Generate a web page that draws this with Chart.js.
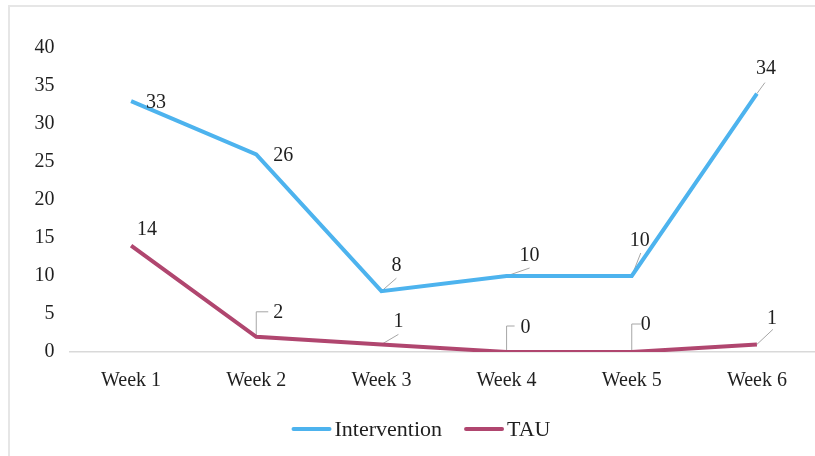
<!DOCTYPE html>
<html>
<head>
<meta charset="utf-8">
<script src="https://cdn.jsdelivr.net/npm/chart.js@4"></script>
<style>
  html, body { margin: 0; padding: 0; background: #fff; overflow: hidden; }
  #frame { position: absolute; left: 8px; top: 5px; width: 900px; height: 600px;
           border-top: 2px solid #e6e6e6; border-left: 2px solid #e6e6e6; }
  #wrap { position: absolute; left: 0; top: 0; width: 830px; height: 456px; }
</style>
</head>
<body>
<div id="frame"></div>
<div id="wrap"><canvas id="c"></canvas></div>
<script>
// Weekly counts per group
const weeks = ['Week 1', 'Week 2', 'Week 3', 'Week 4', 'Week 5', 'Week 6'];
const intervention = [33, 26, 8, 10, 10, 34];
const tau = [14, 2, 1, 0, 0, 1];
const yTicks = [0, 5, 10, 15, 20, 25, 30, 35, 40];

const FONT = '"Liberation Serif", "Times New Roman", serif';
const BLUE = '#4db3ee';
const MAROON = '#b0466f';
const INK = '#1f1f1f';

// Value label placement: label offset from the point, and leader style
// 'none' = no leader, 'diag' = straight leader to [lx, ly], 'elbow' = up then right
const labelLayout = [
  [
    { dx: 25, dy: 2, type: 'none' },
    { dx: 27, dy: 1, type: 'none' },
    { dx: 15, dy: -25, type: 'diag', lx: 15, ly: -13 },
    { dx: 23, dy: -20, type: 'diag', lx: 23, ly: -8 },
    { dx: 8, dy: -35, type: 'diag', lx: 9, ly: -23 },
    { dx: 9, dy: -25, type: 'diag', lx: 8, ly: -11 }
  ],
  [
    { dx: 16, dy: -16, type: 'none' },
    { dx: 22, dy: -24, type: 'elbow', lx: 12, ly: -25 },
    { dx: 17, dy: -23, type: 'diag', lx: 17, ly: -10 },
    { dx: 19, dy: -24, type: 'elbow', lx: 8, ly: -26 },
    { dx: 14, dy: -27, type: 'elbow', lx: 9, ly: -28 },
    { dx: 15, dy: -26, type: 'diag', lx: 16, ly: -15 }
  ]
];

const leaderPlugin = {
  id: 'leaders',
  beforeDatasetsDraw(chart) {
    const ctx = chart.ctx;
    ctx.save();
    ctx.strokeStyle = '#a6a6a6';
    ctx.lineWidth = 1;
    chart.data.datasets.forEach((ds, di) => {
      chart.getDatasetMeta(di).data.forEach((pt, i) => {
        const L = labelLayout[di][i];
        if (L.type === 'none') return;
        ctx.beginPath();
        ctx.moveTo(pt.x, pt.y);
        if (L.type === 'diag') {
          ctx.lineTo(pt.x + L.lx, pt.y + L.ly);
        } else {
          ctx.lineTo(pt.x, pt.y + L.ly);
          ctx.lineTo(pt.x + L.lx, pt.y + L.ly);
        }
        ctx.stroke();
      });
    });
    ctx.restore();
  },
  afterDatasetsDraw(chart) {
    const ctx = chart.ctx;
    ctx.save();
    ctx.fillStyle = INK;
    ctx.font = '20px ' + FONT;
    ctx.textAlign = 'center';
    ctx.textBaseline = 'middle';
    chart.data.datasets.forEach((ds, di) => {
      chart.getDatasetMeta(di).data.forEach((pt, i) => {
        const L = labelLayout[di][i];
        ctx.fillText(String(ds.data[i]), pt.x + L.dx, pt.y + L.dy);
      });
    });
    ctx.restore();
  }
};

// Legend drawn beneath the axis: line swatch followed by series name
const legendPlugin = {
  id: 'bottomLegend',
  afterDraw(chart) {
    const ctx = chart.ctx;
    const y = 429, swatch = 40, gapText = 3, gapItem = 22;
    ctx.save();
    ctx.font = '22px ' + FONT;
    ctx.textBaseline = 'middle';
    ctx.textAlign = 'left';
    const items = chart.data.datasets.map(ds => ({
      label: ds.label, color: ds.borderColor, w: ctx.measureText(ds.label).width
    }));
    const total = items.reduce((s, it) => s + swatch + gapText + it.w, 0) + gapItem * (items.length - 1);
    let x = 421 - total / 2;
    items.forEach(it => {
      ctx.strokeStyle = it.color;
      ctx.lineWidth = 4;
      ctx.lineCap = 'round';
      ctx.beginPath();
      ctx.moveTo(x + 2, y);
      ctx.lineTo(x + swatch - 2, y);
      ctx.stroke();
      ctx.fillStyle = INK;
      ctx.fillText(it.label, x + swatch + gapText, y + 1);
      x += swatch + gapText + it.w + gapItem;
    });
    ctx.restore();
  }
};

new Chart(document.getElementById('c'), {
  type: 'line',
  data: {
    labels: weeks,
    datasets: [
      { label: 'Intervention', data: intervention, borderColor: BLUE, backgroundColor: BLUE,
        borderWidth: 4, pointRadius: 0, tension: 0 },
      { label: 'TAU', data: tau, borderColor: MAROON, backgroundColor: MAROON,
        borderWidth: 4, pointRadius: 0, tension: 0 }
    ]
  },
  options: {
    responsive: true,
    maintainAspectRatio: false,
    animation: false,
    layout: { padding: { left: 0, right: 10.5, top: 48, bottom: 44 } },
    plugins: { legend: { display: false }, tooltip: { enabled: false } },
    scales: {
      x: {
        offset: true,
        grid: { display: false },
        border: { display: false },
        ticks: { color: INK, font: { family: FONT, size: 20 }, padding: 9, maxRotation: 0 },
        afterFit(scale) { scale.height = 60; }
      },
      y: {
        min: 0, max: 40,
        afterBuildTicks(scale) { scale.ticks = yTicks.map(v => ({ value: v })); },
        grid: {
          drawTicks: false,
          color: c => (c.tick && c.tick.value === 0 ? '#d9d9d9' : 'rgba(0,0,0,0)'),
          lineWidth: 1.5
        },
        border: { display: false },
        ticks: { color: INK, font: { family: FONT, size: 20 }, padding: 14 },
        afterFit(scale) { scale.width = 68.5; }
      }
    }
  },
  plugins: [leaderPlugin, legendPlugin]
});
</script>
</body>
</html>
